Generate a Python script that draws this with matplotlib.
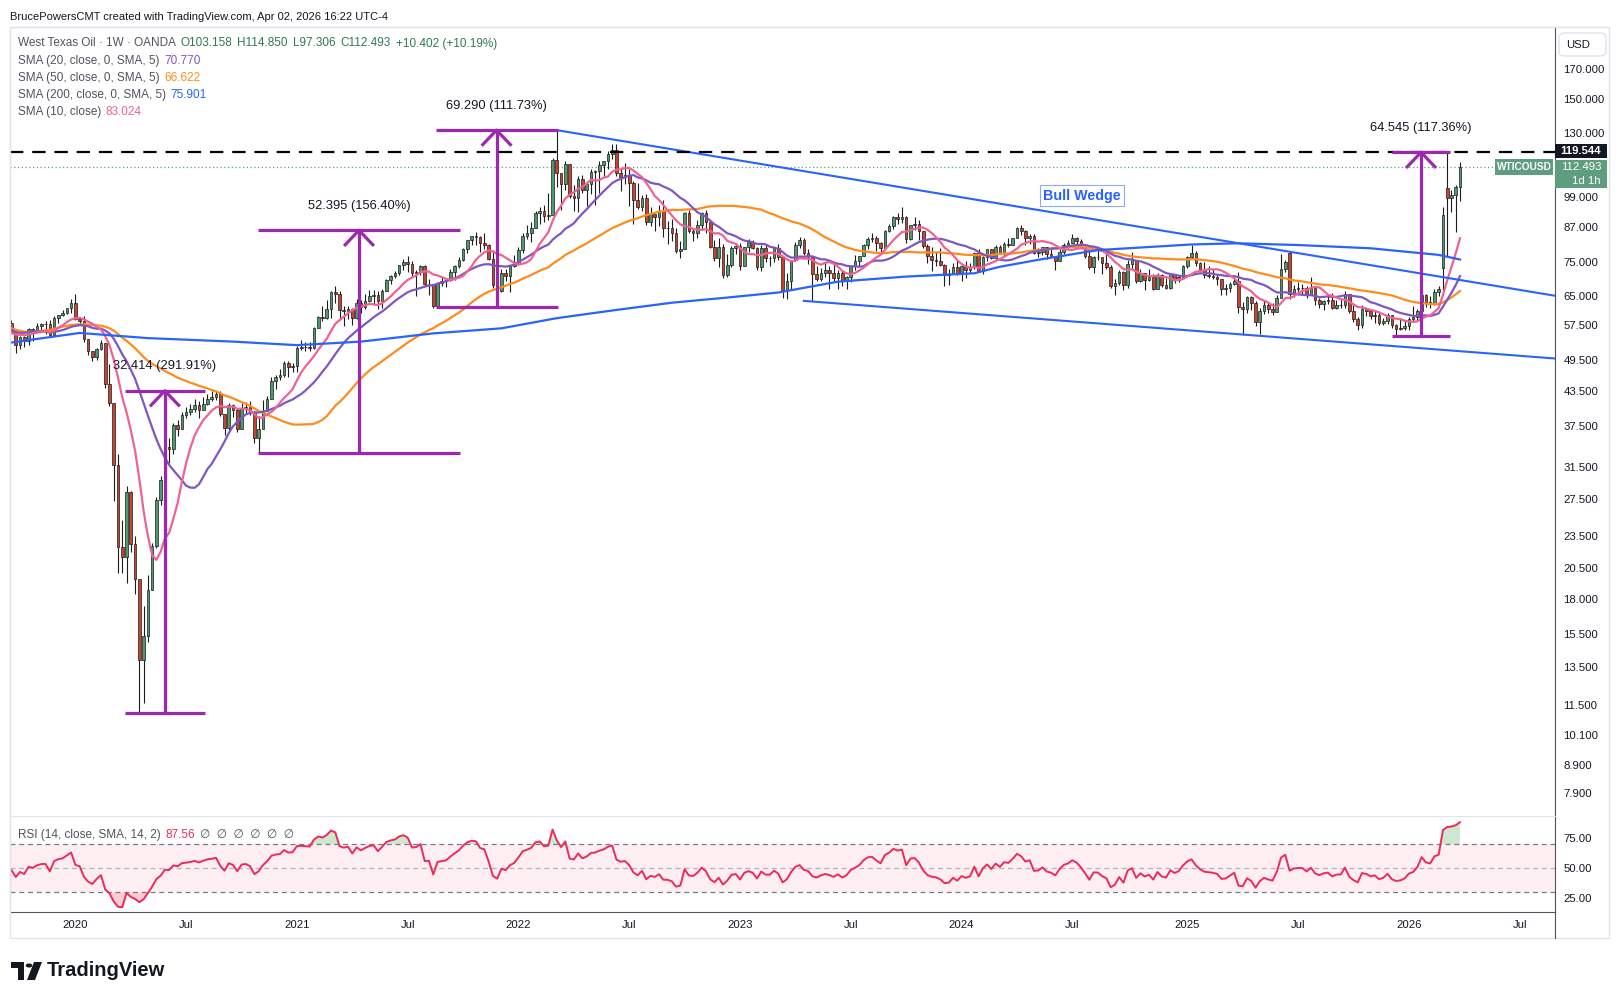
import numpy as np
import pandas as pd
import matplotlib
matplotlib.use("Agg")
import matplotlib.pyplot as plt
from matplotlib.patches import Rectangle, FancyBboxPatch, Polygon, Circle

plt.rcParams['font.family'] = ['Liberation Sans', 'DejaVu Sans']

# ---------------------------------------------------------------------------
# weekly WTI (OANDA) data
# ---------------------------------------------------------------------------
# closes before the visible window (Sep 2018 - Sep 16 2019), only used to warm up SMA / RSI
pre_close = [73.25, 74.34, 71.34, 69.12, 67.59, 63.14, 60.19, 56.46, 50.42, 50.93, 52.61, 51.20,
             45.59, 45.33, 47.96, 51.59, 53.80, 53.69, 55.26, 52.72, 55.59, 57.26, 55.80, 56.07,
             58.52, 59.04, 60.14, 63.08, 63.89, 64.00, 63.30, 61.94, 61.66, 62.76, 58.63, 53.50,
             53.99, 52.51, 57.43, 58.47, 57.51, 60.21, 55.63, 56.20, 55.66, 54.50, 54.87, 54.17,
             55.10, 56.52, 54.85, 58.09]

first_week = '2019-09-23'

close_2019 = [55.91, 52.81, 54.70, 53.78, 56.66, 56.20, 57.24, 57.72, 57.77, 55.17, 59.20, 60.07, 60.44, 61.72, 63.05]
high_2019 = [58.80, 56.20, 54.90, 55.00, 56.90, 56.90, 57.90, 57.90, 58.60, 58.70, 59.80, 60.10, 61.20, 61.90, 64.10]
low_2019 = [55.60, 50.99, 51.90, 52.40, 52.90, 53.70, 55.90, 56.00, 55.40, 55.00, 55.00, 58.10, 59.80, 60.30, 60.60]

close_2020 = [59.04, 58.54, 54.19, 51.56, 50.32, 52.05, 53.38, 44.76, 41.28, 31.73, 22.43, 21.51, 28.34,
              22.76, 19.60, 13.90, 15.40, 18.70, 22.50, 27.40, 29.80, 34.30, 34.00, 37.60, 37.00, 39.30,
              39.70, 40.20, 40.90, 40.10, 41.20, 42.00, 42.30, 42.90, 39.50, 37.10, 40.90, 40.10, 37.00,
              40.40, 40.70, 39.70, 35.70, 37.00, 40.00, 42.10, 45.40, 46.20, 46.50, 49.00, 48.10, 48.40]
high_2020 = [65.65, 59.30, 59.70, 54.30, 51.50, 52.20, 54.00, 53.20, 48.70, 36.50, 33.30, 25.20, 29.10,
             28.40, 23.50, 19.50, 17.50, 19.90, 22.80, 27.80, 30.30, 34.80, 35.70, 37.90, 38.40, 39.80,
             40.60, 41.20, 42.10, 41.60, 42.40, 42.90, 43.52, 43.50, 43.50, 39.00, 41.40, 41.10, 40.30,
             41.30, 41.50, 41.60, 39.90, 39.10, 41.90, 42.60, 46.20, 46.60, 47.70, 49.30, 49.40, 48.90]
low_2020 = [58.70, 57.40, 53.50, 50.60, 49.30, 49.60, 51.70, 44.00, 40.80, 27.30, 20.10, 20.10, 19.30,
            22.00, 18.40, 11.10, 11.60, 15.00, 18.80, 22.40, 26.80, 29.90, 32.00, 33.30, 35.90, 37.00,
            38.70, 39.30, 39.80, 38.70, 40.10, 41.00, 41.60, 41.90, 39.10, 36.10, 36.90, 38.90, 36.60,
            37.30, 39.50, 39.20, 34.90, 33.50, 37.00, 39.90, 42.20, 43.90, 45.50, 46.20, 46.20, 47.10]

close_2021 = [52.20, 52.40, 52.30, 52.20, 56.90, 59.50, 59.20, 61.50, 66.10, 65.60, 61.40, 60.90, 61.50,
              59.30, 63.10, 62.10, 63.60, 64.90, 65.40, 63.60, 66.30, 69.60, 70.90, 71.60, 74.10, 75.20,
              74.60, 71.80, 72.10, 73.90, 68.30, 68.40, 62.30, 68.70, 69.30, 69.70, 71.90, 73.90, 75.90,
              79.40, 82.30, 83.80, 83.60, 81.30, 80.80, 76.10, 68.20, 66.30, 71.70, 70.90, 73.80, 75.20]
high_2021 = [52.70, 53.90, 53.60, 53.50, 57.00, 59.80, 62.30, 63.80, 66.40, 67.90, 66.40, 62.30, 62.30,
             61.90, 64.10, 63.80, 65.50, 66.80, 66.70, 66.30, 66.90, 69.80, 71.20, 72.20, 74.20, 76.20,
             76.98, 75.50, 72.70, 74.00, 74.00, 69.80, 68.40, 68.90, 70.50, 70.00, 73.00, 74.30, 76.70,
             79.80, 82.30, 84.00, 85.40, 84.00, 84.97, 81.10, 79.10, 71.70, 72.80, 72.90, 74.20, 77.50]
low_2021 = [47.20, 51.80, 51.40, 51.40, 51.90, 56.80, 58.40, 59.00, 59.20, 63.10, 58.70, 57.30, 58.90,
            57.60, 59.10, 60.60, 61.60, 63.50, 62.70, 61.50, 61.90, 66.60, 68.50, 70.30, 71.10, 72.60,
            71.90, 70.80, 65.00, 71.00, 67.80, 65.20, 61.70, 62.00, 67.70, 67.60, 69.40, 69.60, 73.10,
            75.30, 78.10, 80.60, 80.60, 78.30, 79.20, 75.60, 67.40, 62.00, 66.10, 69.30, 66.00, 73.50]

close_2022 = [78.90, 83.80, 85.10, 86.80, 92.30, 93.10, 91.10, 91.60, 115.70, 109.30, 104.70, 113.90, 99.30,
              98.30, 106.90, 102.10, 104.70, 109.80, 110.50, 113.20, 115.10, 118.90, 120.70, 109.60, 107.60,
              108.40, 104.80, 97.60, 94.70, 98.60, 89.00, 92.10, 90.80, 93.10, 86.90, 86.80, 85.10, 78.70,
              79.50, 92.60, 85.60, 85.10, 87.90, 92.60, 89.00, 80.10, 76.30, 80.00, 71.00, 74.30, 79.60, 80.30]
high_2022 = [80.20, 84.80, 87.90, 88.80, 93.20, 94.90, 95.80, 100.50, 116.60, 131.31, 109.70, 115.40, 113.80,
             104.10, 108.10, 108.60, 105.70, 111.40, 110.80, 115.40, 115.20, 120.00, 123.70, 123.70, 111.90,
             114.10, 111.50, 105.90, 104.90, 99.80, 100.00, 94.90, 91.00, 95.60, 97.60, 89.50, 90.10, 86.70,
             82.20, 92.70, 93.60, 86.90, 89.90, 92.90, 93.70, 89.50, 82.50, 83.30, 81.20, 77.80, 80.40, 81.50]
low_2022 = [74.30, 77.90, 82.90, 81.90, 86.60, 88.30, 88.90, 89.60, 91.50, 103.00, 93.50, 101.90, 98.40,
            93.30, 92.90, 100.40, 95.30, 100.30, 95.80, 100.60, 108.30, 111.20, 116.10, 108.00, 101.50,
            104.60, 95.10, 88.30, 94.00, 93.10, 87.90, 87.60, 85.70, 87.50, 83.50, 81.20, 82.20, 78.00,
            76.30, 79.50, 84.90, 82.10, 83.10, 85.90, 85.00, 79.60, 75.30, 73.60, 70.10, 70.40, 73.60, 77.60]

close_2023 = [73.80, 79.90, 81.60, 79.70, 73.40, 79.70, 76.30, 76.30, 79.70, 76.70, 66.70, 69.30, 75.70,
              80.70, 82.50, 77.90, 76.80, 71.30, 70.00, 71.70, 72.70, 71.70, 70.20, 71.80, 69.20, 70.60,
              73.90, 75.40, 77.10, 80.60, 82.80, 83.20, 81.30, 79.80, 85.60, 87.50, 90.80, 90.00, 90.80,
              82.80, 87.70, 88.10, 85.50, 80.50, 77.20, 75.90, 75.50, 74.10, 71.20, 71.40, 73.60, 71.70]
high_2023 = [81.50, 80.10, 82.70, 82.50, 79.90, 80.60, 80.80, 77.20, 80.10, 81.00, 77.10, 71.70, 75.70,
             81.80, 83.50, 83.00, 79.20, 76.80, 73.80, 73.10, 74.70, 73.70, 75.00, 72.50, 72.70, 70.90,
             73.90, 77.30, 77.20, 80.90, 83.50, 84.90, 84.00, 81.70, 86.00, 88.10, 91.20, 92.40, 95.00,
             91.10, 88.00, 90.80, 89.90, 83.70, 81.00, 79.90, 78.40, 79.60, 74.50, 72.80, 74.90, 76.20]
low_2023 = [72.50, 73.80, 78.20, 79.20, 72.60, 72.30, 75.10, 73.80, 75.20, 75.70, 64.40, 64.10, 66.80,
            79.00, 79.80, 77.40, 74.40, 63.60, 69.40, 69.40, 70.60, 67.00, 69.20, 67.10, 67.80, 67.10,
            69.00, 72.70, 73.80, 76.90, 79.30, 81.80, 78.60, 77.60, 79.70, 85.20, 86.50, 88.20, 88.50,
            81.50, 82.30, 86.00, 82.30, 79.80, 74.80, 72.40, 73.80, 73.80, 67.70, 68.00, 71.40, 71.00]

close_2024 = [73.80, 72.70, 73.40, 78.00, 72.30, 76.80, 79.20, 76.50, 79.90, 78.00, 81.00, 80.60, 83.20,
              86.90, 85.70, 83.10, 83.90, 78.10, 78.30, 80.00, 77.70, 77.00, 75.50, 78.50, 80.70, 81.50,
              83.20, 82.20, 80.10, 77.20, 73.50, 76.80, 76.70, 74.80, 73.60, 67.70, 68.70, 71.90, 68.20,
              74.40, 75.60, 69.20, 71.80, 69.50, 70.40, 67.00, 71.20, 68.00, 67.20, 71.30, 69.50, 70.60, 73.96]
high_2024 = [74.00, 75.30, 74.90, 78.30, 79.30, 77.00, 79.30, 79.30, 80.60, 80.80, 81.60, 83.10, 83.30,
             87.10, 87.70, 86.00, 84.40, 84.50, 79.80, 80.10, 80.10, 80.20, 77.00, 79.40, 81.40, 82.40,
             84.50, 83.50, 82.80, 80.30, 78.80, 77.00, 79.90, 75.80, 78.10, 74.20, 70.00, 72.60, 72.40,
             75.90, 78.50, 74.30, 72.90, 71.60, 72.90, 71.50, 71.70, 71.50, 70.10, 71.50, 71.20, 71.00, 74.20]
low_2024 = [69.30, 70.10, 71.70, 72.80, 72.10, 71.40, 75.30, 76.20, 76.10, 77.60, 76.60, 80.10, 80.60,
            83.00, 84.10, 80.70, 81.10, 77.70, 76.60, 77.30, 76.00, 76.60, 72.50, 75.40, 77.70, 79.70,
            81.50, 80.70, 79.80, 76.30, 72.90, 71.70, 75.80, 71.50, 72.80, 67.20, 65.30, 68.20, 66.80,
            67.40, 72.70, 68.60, 68.90, 66.60, 69.30, 66.80, 67.20, 67.60, 66.90, 66.90, 68.70, 68.90, 70.70]

close_2025 = [76.60, 77.90, 74.70, 72.50, 71.00, 70.70, 70.40, 69.80, 67.00, 67.20, 68.30, 69.40, 62.00,
              61.50, 64.70, 63.00, 58.30, 61.00, 62.50, 61.50, 60.80, 64.60, 73.00, 75.00, 65.50, 67.00,
              67.30, 67.30, 65.20, 67.30, 63.90, 62.80, 63.70, 64.00, 61.90, 62.70, 62.70, 65.70, 60.90,
              58.90, 57.50, 61.50, 61.00, 59.75, 60.10, 58.10, 58.60, 60.10, 57.40, 56.50, 56.70, 57.30]
high_2025 = [77.00, 80.80, 78.70, 75.00, 75.20, 73.70, 72.80, 71.40, 70.00, 68.40, 69.00, 70.20, 72.00,
             63.30, 64.90, 64.90, 63.60, 61.90, 64.00, 63.00, 63.00, 65.20, 77.60, 75.70, 78.40, 68.00,
             69.00, 68.40, 67.80, 70.50, 67.20, 64.60, 64.00, 65.30, 65.90, 64.00, 64.60, 66.40, 65.50,
             63.00, 59.40, 62.60, 61.90, 61.40, 61.30, 61.00, 59.20, 60.40, 60.10, 57.80, 58.90, 58.50]
low_2025 = [73.10, 76.10, 73.90, 72.00, 70.20, 70.20, 69.80, 68.20, 65.20, 65.20, 66.00, 68.20, 60.40,
            55.10, 60.60, 61.30, 57.20, 55.30, 60.30, 60.50, 60.00, 62.30, 64.50, 71.90, 64.20, 64.80,
            65.70, 65.30, 64.60, 65.50, 62.70, 61.90, 61.40, 62.80, 61.50, 61.50, 61.80, 61.90, 60.40,
            58.20, 56.40, 56.80, 59.80, 58.90, 57.90, 57.40, 57.50, 57.80, 56.90, 55.00, 56.20, 56.30]

close_2026 = [58.90, 59.40, 61.10, 65.20, 63.40, 63.00, 66.20, 67.00, 91.70, 98.60, 99.80, 103.16, 112.493]
high_2026 = [59.60, 62.20, 61.60, 66.00, 65.50, 65.00, 67.00, 67.70, 95.00, 119.544, 101.80, 104.00, 114.85]
low_2026 = [56.30, 58.30, 58.80, 60.50, 62.00, 61.80, 62.50, 64.90, 66.50, 76.80, 93.00, 85.40, 97.306]

# weeks whose open gapped away from the previous close
gap_open = {'2025-06-23': 77.9, '2026-03-02': 73.1, '2026-03-09': 102.6, '2026-03-30': 103.158}

# 200-week SMA (needs history far left of the chart)
sma200_dates = ['2019-09-23', '2020-01-13', '2020-05-04', '2020-09-21', '2021-01-04', '2021-04-19',
                '2021-08-16', '2021-12-06', '2022-03-07', '2022-06-13', '2022-09-12', '2022-12-12',
                '2023-03-06', '2023-06-12', '2023-10-02', '2024-01-22', '2024-03-04',
                '2024-05-06', '2024-08-12', '2025-01-13', '2025-03-31', '2025-07-07', '2025-11-03',
                '2026-02-23', '2026-03-30']
sma200_vals = [53.4, 55.6, 54.4, 53.6, 52.8, 53.6, 55.5, 56.7, 59.2, 61.3, 63.2, 64.6, 66.0,
               69.1, 70.6, 71.6, 73.6, 75.8, 79.0, 80.9, 81.3, 80.7, 79.6, 77.4, 75.9]

# wedge trend lines: (date, price) end points
wedge_top = [('2022-03-07', 131.31), ('2026-09-02', 65.1)]
wedge_bottom = [('2023-04-17', 63.7), ('2026-09-02', 49.9)]
bull_wedge_at = ('2024-07-17', 99.4)

# purple price-range measurements
measures = [
    dict(left='2020-03-27', right='2020-08-06', mid='2020-06-01', low=11.104, high=43.518, label='32.414 (291.91%)'),
    dict(left='2020-11-01', right='2021-09-29', mid='2021-04-16', low=33.50, high=85.895, label='52.395 (156.40%)'),
    dict(left='2021-08-21', right='2022-03-09', mid='2021-11-28', low=62.02, high=131.31, label='69.290 (111.73%)'),
    dict(left='2025-12-09', right='2026-03-13', mid='2026-01-25', low=55.00, high=119.544, label='64.545 (117.36%)'),
]

key_level = 119.544
last_close = 112.493

price_ticks = [170, 150, 130, 99, 87, 75, 65, 57.5, 49.5, 43.5, 37.5, 31.5, 27.5, 23.5, 20.5, 18,
               15.5, 13.5, 11.5, 10.1, 8.9, 7.9]
time_ticks = [('2020-01-06', '2020'), ('2020-07-06', 'Jul'), ('2021-01-04', '2021'), ('2021-07-05', 'Jul'),
              ('2022-01-03', '2022'), ('2022-07-04', 'Jul'), ('2023-01-02', '2023'), ('2023-07-03', 'Jul'),
              ('2024-01-01', '2024'), ('2024-07-01', 'Jul'), ('2025-01-06', '2025'), ('2025-07-07', 'Jul'),
              ('2026-01-05', '2026'), ('2026-07-06', 'Jul')]

# ---------------------------------------------------------------------------
# colours
# ---------------------------------------------------------------------------
UP, DOWN, EDGE = '#4b9b6c', '#c8432f', '#1c1c1c'
C10, C20, C50, C200 = '#f06292', '#7e57c2', '#ff8c1a', '#2962ff'
PURPLE = '#9c27b0'
TXT, GREY, GREEN_TXT = '#131722', '#50535e', '#2f7a52'
FRAME = '#e0e3eb'

W, H = 1620, 1000
fig = plt.figure(figsize=(W / 100, H / 100), dpi=100)
fig.patch.set_facecolor('white')


def fbox(x0, y0, x1, y1):
    return [x0 / W, 1 - y1 / H, (x1 - x0) / W, (y1 - y0) / H]


ax = fig.add_axes(fbox(10, 27, 1555, 816))
rax = fig.add_axes(fbox(10, 817, 1555, 912))

# ---------------------------------------------------------------------------
# assemble candles
# ---------------------------------------------------------------------------
closes = np.array(close_2019 + close_2020 + close_2021 + close_2022 + close_2023 + close_2024 + close_2025 + close_2026)
highs = np.array(high_2019 + high_2020 + high_2021 + high_2022 + high_2023 + high_2024 + high_2025 + high_2026)
lows = np.array(low_2019 + low_2020 + low_2021 + low_2022 + low_2023 + low_2024 + low_2025 + low_2026)
n = len(closes)
start = pd.Timestamp(first_week)


def widx(d):
    return (pd.Timestamp(d) - start).days / 7.0


series = pd.Series(pre_close + list(closes))
npre = len(pre_close)
opens = series.shift(1).to_numpy()[npre:].copy()
for d, o in gap_open.items():
    opens[int(round(widx(d)))] = o
highs = np.maximum(highs, np.maximum(opens, closes))
lows = np.minimum(lows, np.minimum(opens, closes))
x = np.arange(n)

ax.set_yscale('log')
up = closes >= opens
blo = np.minimum(opens, closes)
bhi = np.maximum(opens, closes)
ax.vlines(x, lows, highs, color=EDGE, lw=0.8, zorder=3)
for m, col in ((up, UP), (~up, DOWN)):
    ax.bar(x[m], np.maximum(bhi - blo, 0.02)[m], bottom=blo[m], width=0.62, color=col,
           edgecolor=EDGE, linewidth=0.5, zorder=4)

# moving averages
for w, col in ((50, C50), (20, C20), (10, C10)):
    s = series.rolling(w).mean().to_numpy()[npre:]
    ax.plot(x, s, color=col, lw=1.6, zorder=5)
ax.plot([widx(d) for d in sma200_dates], sma200_vals, color=C200, lw=1.6, zorder=5)

# wedge lines
for (d0, p0), (d1, p1) in (wedge_top, wedge_bottom):
    ax.plot([widx(d0), widx(d1)], [p0, p1], color=C200, lw=1.5, zorder=6)
ax.text(widx(bull_wedge_at[0]), bull_wedge_at[1], 'Bull Wedge', color=C200, fontsize=10.3,
        fontweight='bold', ha='center', va='center', zorder=8,
        bbox=dict(boxstyle='square,pad=0.25', fc='white', ec='#8fa8ff', lw=0.8))

# key level + last price line
ax.axhline(key_level, color='black', lw=1.6, ls=(0, (6, 4)), zorder=6)
ax.axhline(last_close, color='#5e9e7e', lw=0.9, ls=(0, (1, 2)), zorder=2)

# measurement tools
for m in measures:
    xl, xr, xm = widx(m['left']), widx(m['right']), widx(m['mid'])
    kw = dict(color=PURPLE, lw=2.3, solid_capstyle='butt', zorder=7)
    ax.plot([xl, xr], [m['high'], m['high']], **kw)
    ax.plot([xl, xr], [m['low'], m['low']], **kw)
    ax.plot([xm, xm], [m['low'], m['high']], **kw)
    ax.plot([xm - 3.5, xm, xm + 3.5], [m['high'] * 0.936, m['high'], m['high'] * 0.936], **kw)
    ax.annotate(m['label'], (xm, m['high']), xytext=(0, 17.5), textcoords='offset points',
                ha='center', va='center', fontsize=9.3, color=TXT, zorder=8)

ax.set_xlim(-0.35, 362.3)
ax.set_ylim(7.18, 203.3)
ax.yaxis.tick_right()
ax.set_yticks(price_ticks)
ax.set_yticklabels([f'{v:.3f}' for v in price_ticks])
ax.minorticks_off()
ax.set_xticks([])
ax.tick_params(axis='y', length=0, pad=6, labelsize=8.2, labelcolor=TXT)
for side in ('left', 'top', 'bottom'):
    ax.spines[side].set_color(FRAME)
ax.spines['right'].set_color('#50535e')

# ---------------------------------------------------------------------------
# RSI pane
# ---------------------------------------------------------------------------
delta = series.diff()
gain = delta.clip(lower=0).ewm(alpha=1 / 14, adjust=False).mean()
loss = (-delta.clip(upper=0)).ewm(alpha=1 / 14, adjust=False).mean()
rsi = (100 - 100 / (1 + gain / loss)).to_numpy()[npre:]

rax.axhspan(30, 70, color='#fdeef2', zorder=0, lw=0)
rax.axhline(70, color='#787b86', lw=0.9, ls=(0, (4, 3)), zorder=1)
rax.axhline(50, color='#b2b5be', lw=0.9, ls=(0, (4, 3)), zorder=1)
rax.axhline(30, color='#787b86', lw=0.9, ls=(0, (4, 3)), zorder=1)
rax.fill_between(x, rsi, 70, where=rsi > 70, interpolate=True, color='#4caf50', alpha=0.28, lw=0, zorder=2)
rax.fill_between(x, rsi, 30, where=rsi < 30, interpolate=True, color='#f23645', alpha=0.25, lw=0, zorder=2)
rax.plot(x, rsi, color='#ec2b5b', lw=1.4, zorder=4)
rax.set_xlim(-0.35, 362.3)
rax.set_ylim(13.3, 92.5)
rax.yaxis.tick_right()
rax.set_yticks([25, 50, 75])
rax.set_yticklabels(['25.00', '50.00', '75.00'])
rax.set_xticks([widx(d) for d, _ in time_ticks])
rax.set_xticklabels([t for _, t in time_ticks])
rax.tick_params(axis='y', length=0, pad=6, labelsize=8.2, labelcolor=TXT)
rax.tick_params(axis='x', length=0, pad=6, labelsize=8.2, labelcolor=TXT)
rax.spines['top'].set_visible(False)
rax.spines['left'].set_color(FRAME)
rax.spines['right'].set_color('#50535e')
rax.spines['bottom'].set_color('#50535e')

# ---------------------------------------------------------------------------
# figure texts / decorations
# ---------------------------------------------------------------------------
def fx(px):
    return px / W


def fy(py):
    return 1 - py / H


fig.add_artist(Rectangle((fx(9.5), fy(938)), fx(1609) - fx(9.5), fy(27) - fy(938), transform=fig.transFigure,
                         fill=False, ec=FRAME, lw=1))
fig.add_artist(plt.Line2D([fx(1555), fx(1555)], [fy(938), fy(912)], transform=fig.transFigure,
                          color='#50535e', lw=0.8))

fig.text(fx(10), fy(16.5), 'BrucePowersCMT created with TradingView.com, Apr 02, 2026 16:22 UTC-4',
         fontsize=8.0, color=TXT, va='center')

renderer = fig.canvas.get_renderer()


def seq_text(x_px, y_px, parts, size=8.5, gap=5):
    for s, col in parts:
        t = fig.text(fx(x_px), fy(y_px), s, color=col, fontsize=size, va='center', ha='left')
        x_px = t.get_window_extent(renderer).x1 + gap


seq_text(17.5, 43.5, [('West Texas Oil · 1W · OANDA', GREY), ('O103.158', GREEN_TXT), ('H114.850', GREEN_TXT),
                      ('L97.306', GREEN_TXT), ('C112.493', GREEN_TXT), ('+10.402 (+10.19%)', GREEN_TXT)])
seq_text(17.5, 60.6, [('SMA (20, close, 0, SMA, 5)', GREY), ('70.770', C20)])
seq_text(17.5, 77.7, [('SMA (50, close, 0, SMA, 5)', GREY), ('66.622', C50)])
seq_text(17.5, 94.8, [('SMA (200, close, 0, SMA, 5)', GREY), ('75.901', C200)])
seq_text(17.5, 111.9, [('SMA (10, close)', GREY), ('83.024', C10)])
seq_text(17.5, 835, [('RSI (14, close, SMA, 14, 2)', GREY), ('87.56', '#ec2b5b'),
                     ('\u2205  \u2205  \u2205  \u2205  \u2205  \u2205', GREY)])

# price-scale tags
fig.add_artist(FancyBboxPatch((fx(1559), fy(56)), fx(1606) - fx(1559), fy(33) - fy(56), transform=fig.transFigure,
                              boxstyle='round,pad=0,rounding_size=0.004', fc='white', ec=FRAME, lw=1))
fig.text(fx(1578), fy(45), 'USD', fontsize=8.2, color=TXT, ha='center', va='center')

fig.add_artist(Rectangle((fx(1555), fy(158)), fx(1607) - fx(1555), fy(144) - fy(158), transform=fig.transFigure,
                         fc='#131722', ec='none'))
fig.text(fx(1581), fy(151), f'{key_level:.3f}', fontsize=8.2, color='white', ha='center', va='center',
         fontweight='bold')
fig.add_artist(Rectangle((fx(1555), fy(188)), fx(1607) - fx(1555), fy(159.5) - fy(188), transform=fig.transFigure,
                         fc='#5e9e7e', ec='none'))
fig.text(fx(1581), fy(167.5), f'{last_close:.3f}', fontsize=8.2, color='white', ha='center', va='center')
fig.text(fx(1572), fy(181), '1d 1h', fontsize=8.2, color='white', ha='left', va='center')
fig.add_artist(Rectangle((fx(1495), fy(175)), fx(1553) - fx(1495), fy(159.5) - fy(175), transform=fig.transFigure,
                         fc='#5e9e7e', ec='none'))
fig.text(fx(1524), fy(167.3), 'WTICOUSD', fontsize=7.3, color='white', ha='center', va='center', fontweight='bold')

# TradingView logo
fig.add_artist(Rectangle((fx(11), fy(968)), fx(24) - fx(11), fy(962) - fy(968), transform=fig.transFigure,
                         fc='#131722', ec='none'))
fig.add_artist(Rectangle((fx(18), fy(980)), fx(24) - fx(18), fy(962) - fy(980), transform=fig.transFigure,
                         fc='#131722', ec='none'))
fig.add_artist(Polygon([(fx(34), fy(962)), (fx(42), fy(962)), (fx(35), fy(980)), (fx(27), fy(980))],
                       closed=True, transform=fig.transFigure, fc='#131722', ec='none'))
fig.add_artist(Circle((fx(29), fy(965.5)), 3.3 / W, transform=fig.transFigure, fc='#131722', ec='none'))
fig.text(fx(47), fy(971), 'TradingView', fontsize=14.5, fontweight='bold', color='#131722', va='center')

fig.savefig('out.png', dpi=100, facecolor='white')
